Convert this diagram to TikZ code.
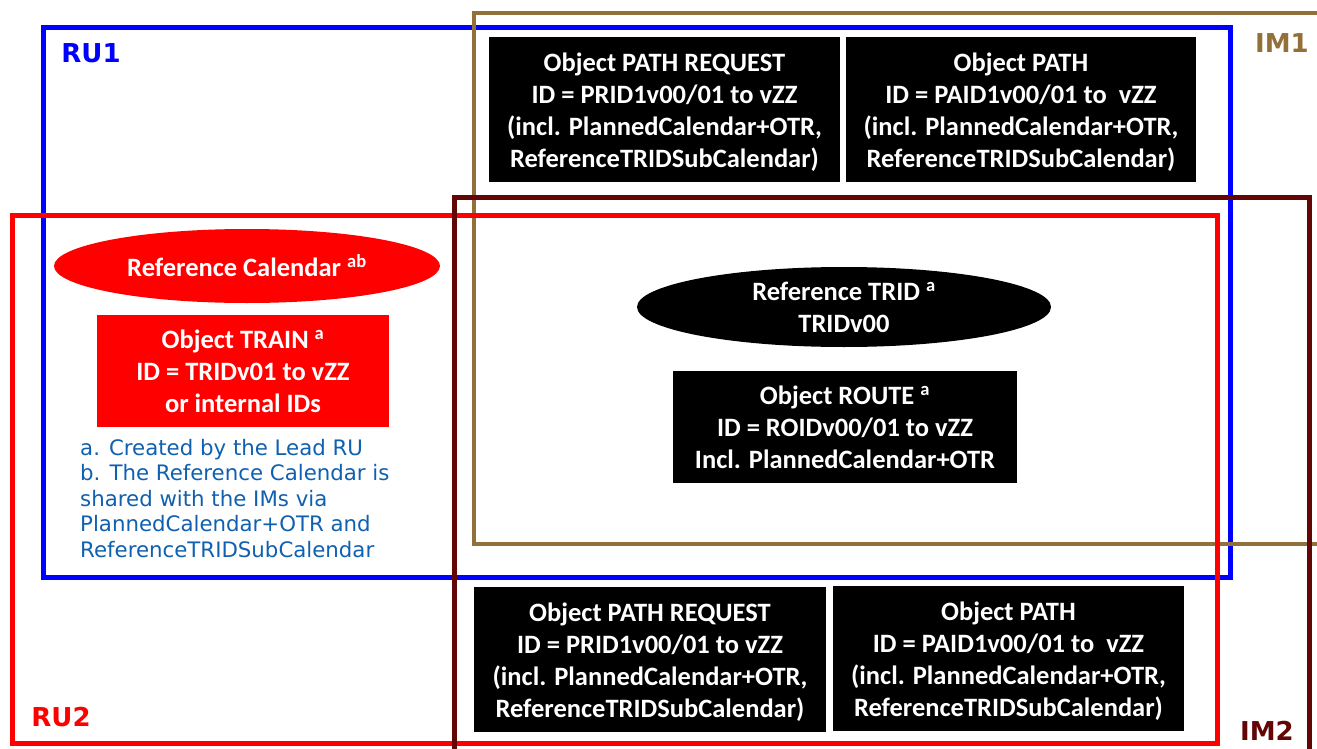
\documentclass[tikz,border=0pt]{standalone}
\usepackage{fontspec}
\setmainfont{Carlito}
\newfontfamily\dejavu{DejaVu Sans}
\usetikzlibrary{shapes.geometric}
\definecolor{imone}{RGB}{145,112,58}
\definecolor{imtwo}{RGB}{99,6,6}
\definecolor{notecol}{RGB}{16,96,176}
\newcommand{\topstrut}{\rule{0pt}{24pt}}
\begin{document}
\begin{tikzpicture}[x=1pt,y=-1pt,
  objbox/.style={fill=black,text=white,font=\bfseries\fontsize{26.5}{32}\selectfont,align=center,inner sep=0pt},
  redbox/.style={objbox,fill=red},
  frame/.style={line width=5pt},
  lbl/.style={font=\dejavu\bfseries\fontsize{26}{30}\selectfont,inner sep=0pt}]
\useasboundingbox (0,0) rectangle (1317,749);
% frames
\draw[frame,blue] (43,28) rectangle (1230,577);
\draw[frame,imone,line width=4pt] (474,13) rectangle (1340,544);
\draw[frame,red] (12,215) rectangle (1217,743);
\draw[frame,imtwo] (454,197) rectangle (1309,770);
% labels
\node[lbl,text=blue] (ru1) at (91,53) {RU1};
\node[lbl,text=imone] (im1) at (1282,43) {IM1};
\node[lbl,text=red] (ru2) at (61,717) {RU2};
\node[lbl,text=imtwo] (im2) at (1267,731) {IM2};
% top objects
\node[objbox,minimum width=351pt,minimum height=145pt] (pr1) at (664.5,109.5)
  {\topstrut Object PATH REQUEST\\ID = PRID1v00/01 to vZZ\\(incl. PlannedCalendar+OTR,\\ReferenceTRIDSubCalendar)};
\node[objbox,minimum width=350pt,minimum height=145pt] (pa1) at (1021,109.5)
  {\topstrut Object PATH\\ID = PAID1v00/01 to\ \ vZZ\\(incl. PlannedCalendar+OTR,\\ReferenceTRIDSubCalendar)};
% bottom objects
\node[objbox,minimum width=352pt,minimum height=145pt] (pr2) at (650,659.5)
  {\topstrut Object PATH REQUEST\\ID = PRID1v00/01 to vZZ\\(incl. PlannedCalendar+OTR,\\ReferenceTRIDSubCalendar)};
\node[objbox,minimum width=351pt,minimum height=145pt] (pa2) at (1008.5,658.5)
  {\topstrut Object PATH\\ID = PAID1v00/01 to\ \ vZZ\\(incl. PlannedCalendar+OTR,\\ReferenceTRIDSubCalendar)};
% RU side
\node[redbox,ellipse,minimum width=386pt,minimum height=74pt] (refcal) at (247,266)
  {Reference Calendar \textsuperscript{ab}};
\node[redbox,minimum width=292pt,minimum height=112pt] (train) at (243,371)
  {Object TRAIN \textsuperscript{a}\\ID = TRIDv01 to vZZ\\or internal IDs};
\node[anchor=north west,inner sep=0pt,align=left,text=notecol,
  font=\dejavu\fontsize{21.3}{25.5}\selectfont] (notes) at (80,439)
  {a. Created by the Lead RU\\b. The Reference Calendar is\\shared with the IMs via\\PlannedCalendar+OTR and\\ReferenceTRIDSubCalendar};
% centre
\node[objbox,ellipse,minimum width=414pt,minimum height=80pt] (trid) at (844,307)
  {Reference TRID \textsuperscript{a}\\TRIDv00};
\node[objbox,minimum width=344pt,minimum height=112pt] (route) at (845,427)
  {Object ROUTE \textsuperscript{a}\\ID = ROIDv00/01 to vZZ\\Incl. PlannedCalendar+OTR};
\end{tikzpicture}
\end{document}
